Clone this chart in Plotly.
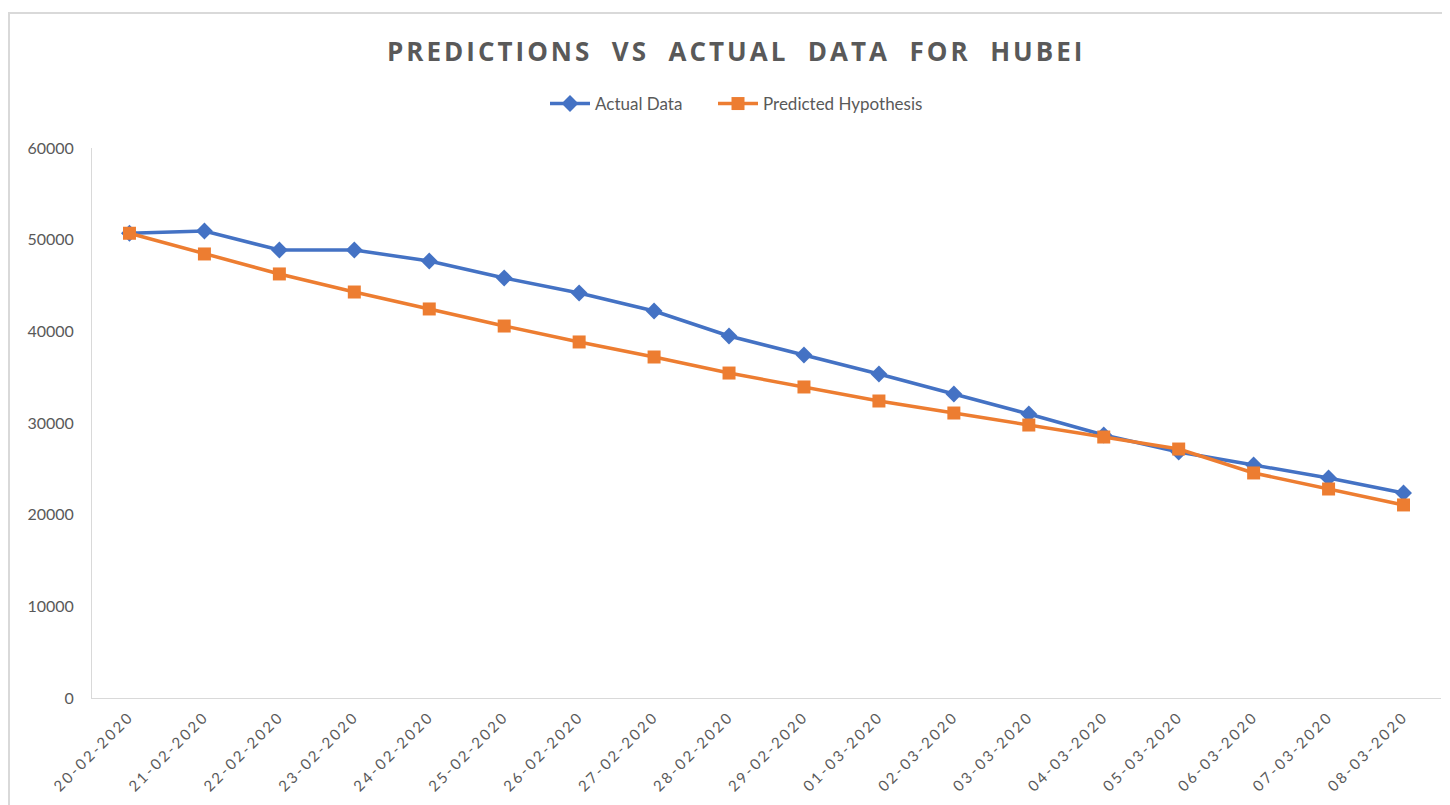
import plotly.graph_objects as go

dates = ["20-02-2020", "21-02-2020", "22-02-2020", "23-02-2020", "24-02-2020",
         "25-02-2020", "26-02-2020", "27-02-2020", "28-02-2020", "29-02-2020",
         "01-03-2020", "02-03-2020", "03-03-2020", "04-03-2020", "05-03-2020",
         "06-03-2020", "07-03-2020", "08-03-2020"]
actual = [50700, 50950, 48870, 48870, 47670, 45820, 44180, 42220, 39490, 37420,
          35350, 33160, 30980, 28690, 26840, 25420, 24000, 22360]
predicted = [50700, 48440, 46260, 44290, 42440, 40580, 38840, 37200, 35450, 33930,
             32400, 31090, 29780, 28470, 27160, 24550, 22800, 21060]
y_ticks = [0, 10000, 20000, 30000, 40000, 50000, 60000]

gray = "#595959"
# page body has an 8px margin, so the figure is sized to fill the rest of the window
W, H = 1442, 797
L, R, T, B = 84, 9, 140, 107
PW, PH = W - L - R, H - T - B

fig = go.Figure()
fig.add_trace(go.Scatter(x=dates, y=actual, name="Actual Data", mode="lines+markers",
                         line=dict(color="#4472C4", width=3.5), legend="legend",
                         marker=dict(symbol="diamond", size=13, color="#4472C4")))
fig.add_trace(go.Scatter(x=dates, y=predicted, name="Predicted Hypothesis", mode="lines+markers",
                         line=dict(color="#ED7D31", width=3.5), legend="legend2",
                         marker=dict(symbol="square", size=13, color="#ED7D31")))

legend_common = dict(orientation="h", xanchor="left", y=1 + (T - 96) / PH, yanchor="middle",
                     font=dict(size=17, color=gray), itemwidth=40, bgcolor="rgba(0,0,0,0)")

title_txt = "PREDICTIONS&nbsp;&nbsp;VS&nbsp;&nbsp;ACTUAL&nbsp;&nbsp;DATA&nbsp;&nbsp;FOR&nbsp;&nbsp;HUBEI"
fig.update_layout(
    width=W, height=H,
    margin=dict(l=L, r=R, t=T, b=B, autoexpand=False),
    paper_bgcolor="white", plot_bgcolor="white",
    font=dict(family="Lato, Open Sans, sans-serif", color=gray, size=14),
    title=dict(text=f"<span style='letter-spacing:3px'><b>{title_txt}</b></span>",
               x=0.505, xanchor="center", y=1 - 44 / H, yanchor="middle",
               font=dict(size=26, color=gray, family="Open Sans, sans-serif")),
    legend=dict(x=(545 - 8 - L) / PW, **legend_common),
    legend2=dict(x=(713 - 8 - L) / PW, **legend_common),
    showlegend=True,
)
fig.update_xaxes(type="category", range=[-0.5, len(dates) - 0.5], showline=True,
                 linecolor="#d9d9d9", linewidth=1, showgrid=False, tickangle=-45,
                 tickvals=dates,
                 ticktext=[f"<span style='letter-spacing:2.5px'>{d}</span>" for d in dates],
                 ticks="", ticklabelstandoff=3, tickfont=dict(size=15, color=gray))
fig.update_yaxes(range=[0, 60000], tickvals=y_ticks, ticktext=[str(v) for v in y_ticks],
                 showline=True, linecolor="#d9d9d9",
                 linewidth=1, showgrid=False, zeroline=False, ticks="", ticklabelstandoff=14,
                 tickfont=dict(size=16, color=gray))
fig.add_shape(type="rect", xref="paper", yref="paper",
              x0=(1 - L) / PW, x1=1 + 20 / PW, y0=-(B + 20) / PH, y1=1 + (T - 5) / PH,
              line=dict(color="#d9d9d9", width=2))
fig.write_html("out.html")
